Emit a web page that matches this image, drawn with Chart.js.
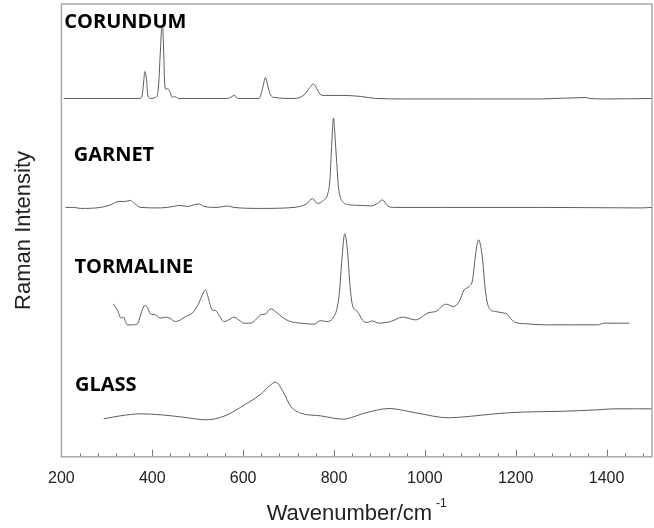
<!DOCTYPE html>
<html>
<head>
<meta charset="utf-8">
<script src="https://cdn.jsdelivr.net/npm/chart.js@4.4.1/dist/chart.umd.min.js"></script>
<style>
  html, body { margin: 0; padding: 0; background: #fff; }
  #wrap { width: 654px; height: 528px; }
</style>
</head>
<body>
<div id="wrap"><canvas id="c" width="654" height="528"></canvas></div>
<script>
// Raman spectra (wavenumber in cm^-1, intensity in arbitrary units above each baseline)
const spectrumNames = ['CORUNDUM', 'GARNET', 'TORMALINE', 'GLASS'];
const spectrumOffsets = [358.5, 249.5, 132, 37];

const corundumWn = [205,374,378,381.5,383.5,387.5,390,396,407,413,418,420.5,422.5,425,427,430,434,438.5,444,449,453.5,458.5,565,576,580,585,591,635,642,649.5,654.5,660.5,668,712,734,747,754.5,762,769,778,822,859,892,962,1109,1255,1355,1362,1402,1500];
const corundumI  = [0,0,3.5,18.5,27,18.5,3.5,0,1,8.5,48.5,70,73.5,48.5,18.5,9,10,7,1,2,1,0,0,2,3.5,1,0,0,8.5,21,12,3.5,1,0,3.5,11,14.5,10,4.5,3,3,2,0,-0.5,-0.5,-0.5,1,0,-0.5,0];

const garnetWn = [209,227,242,286,308,326,341,352,361,374,418,447.5,458.5,477,502.5,513.5,543,565,580,638.5,712,741,752.5,763.5,778,785.5,791,794,797,799,801,803.5,806,809,811.5,818.5,837,859,881,896,906.5,918,932,1035,1255,1476,1500];
const garnetI  = [0,0,-1,0,2.5,6,6,7,4,0,-0.5,1,2,1,3.5,1,0,1.5,0,-1,0,4,9,4,7.5,12.5,27.5,54,80,89.5,80,62,45,25,15,6,2.5,2,1.5,4,7.5,1.5,0,0,0,-0.5,0];

const tormalineWn = [314,323,331.5,337,341,345,356,367,378,383.5,389,396,407,418,429,440,451,462,473,488,502.5,513.5,517.5,522.5,532,539.5,546.5,557.5,568.5,579.5,590.5,601.5,616.5,627.5,638.5,649.5,660.5,671.5,686,704.5,726.5,756,770.5,782,800,811,818.5,823.5,829.5,835.5,840.5,851.5,862.5,873.5,884.5,899,925,951,980,1009,1024,1046,1063,1075.5,1086.5,1097.5,1105,1112,1118,1125.5,1134,1141.5,1156,1175,1180.5,1189.5,1200.5,1226,1263,1322,1380,1395,1424,1450];
const tormalineI  = [21,15,6.7,7.7,3.3,0,0,1,15,19.3,17.7,11,10,6.7,7.7,6.3,3.3,5,8.3,11.7,21.7,33.3,35,28.3,15,14.3,10,3.3,5,7.7,5,1.7,1.7,5,10,11,16,13.3,7.7,3.3,1.7,0.7,4.3,3.3,8.3,28.3,71.7,91,75,38.3,20,13.3,5,2.3,4,1.7,3.3,7.7,5,12.3,13.3,20.7,18.3,23.3,35,38.3,45,71.7,85,71.7,31.7,16.7,13.3,11.7,11,6,2.3,1,0,0,0,1.7,1.7,1.7];

const glassWn = [293,330,375,420,470,519,560,603,640,658,672,688,705,727,770,819,870,921,980,1052,1100,1154,1213,1300,1381,1416,1460,1500];
const glassI  = [1,4,6,5,2.5,0,4,15,26,34,37.7,28,13.3,6.7,4,0.7,7,11.3,7,2,3.5,6,7.7,8.5,10,11,11,11];

const xTickValues = [200, 400, 600, 800, 1000, 1200, 1400];

const spectra = [
  [corundumWn, corundumI],
  [garnetWn, garnetI],
  [tormalineWn, tormalineI],
  [glassWn, glassI]
];

const datasets = spectra.map(([wn, inten], i) => ({
  label: spectrumNames[i],
  data: wn.map((x, j) => ({ x: x, y: inten[j] + spectrumOffsets[i] })),
  borderColor: '#5c5c5c',
  borderWidth: 1,
  pointRadius: 0,
  fill: false,
  cubicInterpolationMode: 'monotone'
}));

// Frame, inward tick marks, spectrum names and the axis title with superscript
const decorations = {
  id: 'decorations',
  afterDraw(chart, args, opts) {
    const { ctx, chartArea: a, scales: { x, y } } = chart;
    ctx.save();

    // tick marks pointing into the plot
    ctx.strokeStyle = '#777';
    ctx.lineWidth = 1;
    for (let v = x.min; v <= x.max; v += opts.minorStep) {
      const px = Math.round(x.getPixelForValue(v)) + 0.5;
      const len = (v % opts.majorStep === 0) ? opts.majorLen : opts.minorLen;
      ctx.beginPath();
      ctx.moveTo(px, a.bottom);
      ctx.lineTo(px, a.bottom - len);
      ctx.stroke();
    }

    // plot frame
    ctx.strokeStyle = '#a8a8a8';
    ctx.lineWidth = 1.5;
    ctx.strokeRect(a.left, a.top, a.right - a.left, a.bottom - a.top);

    // spectrum names
    ctx.fillStyle = '#000';
    ctx.font = 'bold 20px "Open Sans", "Noto Sans", sans-serif';
    ctx.textBaseline = 'alphabetic';
    ctx.textAlign = 'left';
    opts.names.forEach((n) => {
      ctx.fillText(n.text, x.getPixelForValue(n.x), y.getPixelForValue(n.y));
    });

    // x-axis title: Wavenumber/cm^-1
    const main = 'Wavenumber/cm';
    const sup = '-1';
    ctx.fillStyle = '#222';
    ctx.font = '22px "Liberation Sans", Arial, sans-serif';
    const w1 = ctx.measureText(main).width;
    ctx.font = '12px "Liberation Sans", Arial, sans-serif';
    const w2 = ctx.measureText(sup).width;
    const gap = 4;
    const cx = (a.left + a.right) / 2;
    const x0 = cx - (w1 + gap + w2) / 2;
    ctx.font = '22px "Liberation Sans", Arial, sans-serif';
    ctx.fillText(main, x0, a.bottom + 63);
    ctx.font = '12px "Liberation Sans", Arial, sans-serif';
    ctx.fillText(sup, x0 + w1 + gap, a.bottom + 50);

    ctx.restore();
  }
};

new Chart(document.getElementById('c'), {
  type: 'line',
  data: { datasets },
  options: {
    responsive: false,
    animation: false,
    devicePixelRatio: 1,
    layout: { padding: { left: 11, right: 2, top: 4, bottom: 28 } },
    plugins: {
      legend: { display: false },
      tooltip: { enabled: false },
      decorations: {
        minorStep: 40,
        majorStep: 200,
        majorLen: 7,
        minorLen: 3.5,
        names: [
          { text: spectrumNames[0], x: 206.5, y: 428.7 },
          { text: spectrumNames[1], x: 227, y: 296.3 },
          { text: spectrumNames[2], x: 228.6, y: 184.3 },
          { text: spectrumNames[3], x: 230, y: 66 }
        ]
      }
    },
    scales: {
      x: {
        type: 'linear',
        min: 200,
        max: 1500,
        afterBuildTicks: (scale) => { scale.ticks = xTickValues.map(v => ({ value: v })); },
        ticks: {
          autoSkip: false,
          maxRotation: 0,
          padding: 12,
          color: '#222',
          font: { family: '"Liberation Sans", Arial, sans-serif', size: 16 },
          callback: (v) => String(v)
        },
        grid: { display: false, drawTicks: false },
        border: { display: false }
      },
      y: {
        type: 'linear',
        min: 0,
        max: 453,
        ticks: { display: false },
        grid: { display: false, drawTicks: false },
        border: { display: false },
        title: {
          display: true,
          text: 'Raman Intensity',
          color: '#222',
          font: { family: '"Liberation Sans", Arial, sans-serif', size: 22 },
          padding: { top: 0, bottom: 24 }
        }
      }
    }
  },
  plugins: [decorations]
});
</script>
</body>
</html>
